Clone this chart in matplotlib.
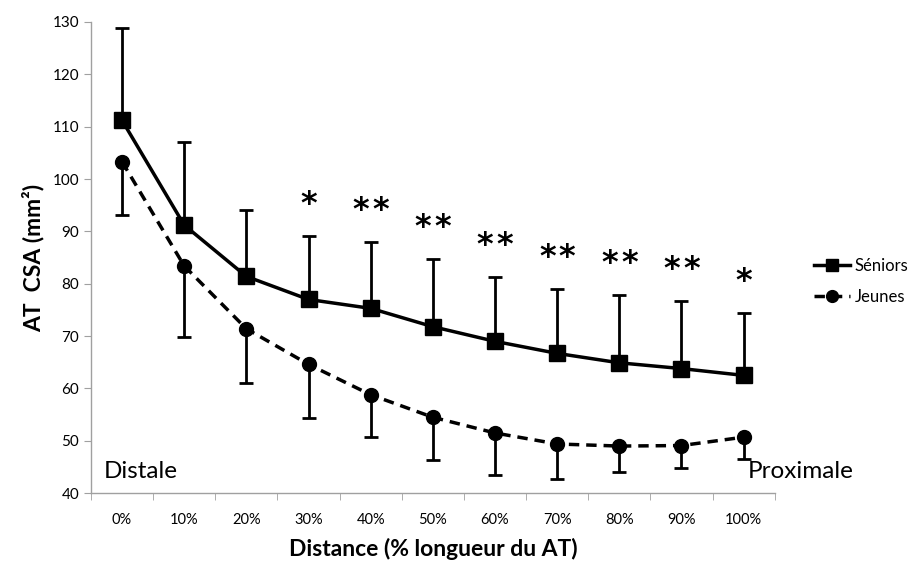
import matplotlib
matplotlib.use('Agg')
import matplotlib.pyplot as plt
import numpy as np

# data
categories = ['0%', '10%', '20%', '30%', '40%', '50%', '60%', '70%', '80%', '90%', '100%']
seniors = [111.2, 91.2, 81.4, 77.0, 75.3, 71.8, 69.0, 66.7, 64.9, 63.8, 62.5]
seniors_upper = [128.8, 107.0, 94.1, 89.2, 88.0, 84.7, 81.3, 79.0, 77.8, 76.7, 74.4]
jeunes = [103.3, 83.4, 71.4, 64.6, 58.8, 54.5, 51.5, 49.4, 49.0, 49.1, 50.7]
jeunes_lower = [93.2, 69.9, 61.0, 54.3, 50.8, 46.4, 43.5, 42.7, 44.0, 44.8, 46.6]
stars = [0, 0, 0, 1, 2, 2, 2, 2, 2, 2, 1]

plt.rcParams['font.family'] = ['Lato', 'DejaVu Sans']

fig = plt.figure(figsize=(9.19, 5.63), dpi=100)
ax = fig.add_axes([0.099, 0.124, 0.744, 0.837])

x = np.arange(len(categories))
s_err = np.array(seniors_upper) - np.array(seniors)
j_err = np.array(jeunes) - np.array(jeunes_lower)

ax.errorbar(x, seniors, yerr=[np.zeros_like(s_err), s_err], fmt='none',
            ecolor='black', elinewidth=2, capsize=5, capthick=2, zorder=2)
ax.errorbar(x, jeunes, yerr=[j_err, np.zeros_like(j_err)], fmt='none',
            ecolor='black', elinewidth=2, capsize=5, capthick=2, zorder=2)

ax.plot(x, seniors, color='black', lw=2.5, marker='s', markersize=11,
        label='Séniors', zorder=3)
ax.plot(x, jeunes, color='black', lw=2.5, ls=(0, (3, 2)), marker='o',
        markersize=10, label='Jeunes', zorder=3)

# significance stars above the senior error bars
for xi, up, n in zip(x, seniors_upper, stars):
    if n == 1:
        offsets = [0]
    elif n == 2:
        offsets = [-0.16, 0.16]
    else:
        offsets = []
    for off in offsets:
        ax.text(xi + off, up + 6.0, '*', ha='center', va='center',
                fontsize=23, fontweight='bold', family='DejaVu Sans')

ax.text(-0.3, 44.2, 'Distale', fontsize=17.5, ha='left', va='center')
ax.text(10.06, 44.2, 'Proximale', fontsize=17.5, ha='left', va='center',
        clip_on=False)

ax.set_xlim(-0.5, len(categories) - 0.5)
ax.set_ylim(40, 130)
ax.set_yticks(range(40, 131, 10))
ax.set_xticks(x)
ax.set_xticklabels(categories)
ax.set_xticks(np.arange(-0.5, len(categories), 1), minor=True)
ax.tick_params(axis='x', which='major', length=0, pad=14, labelsize=10.5)
ax.tick_params(axis='x', which='minor', length=5, color='#a0a0a0')
ax.tick_params(axis='y', length=5, color='#a0a0a0', labelsize=11)

for side in ['top', 'right']:
    ax.spines[side].set_visible(False)
for side in ['left', 'bottom']:
    ax.spines[side].set_color('#a0a0a0')
    ax.spines[side].set_linewidth(1)

ax.set_ylabel('AT  CSA (mm²)', fontsize=16.5, fontweight='bold', labelpad=6)
ax.set_xlabel('Distance (% longueur du AT)', fontsize=16.5, fontweight='bold',
              labelpad=8)

ax.legend(loc='center left', bbox_to_anchor=(1.035, 0.45), frameon=False,
          fontsize=12, handlelength=2.2, handletextpad=0.25, labelspacing=0.9,
          markerscale=0.85)

fig.savefig('out.png', dpi=100)
